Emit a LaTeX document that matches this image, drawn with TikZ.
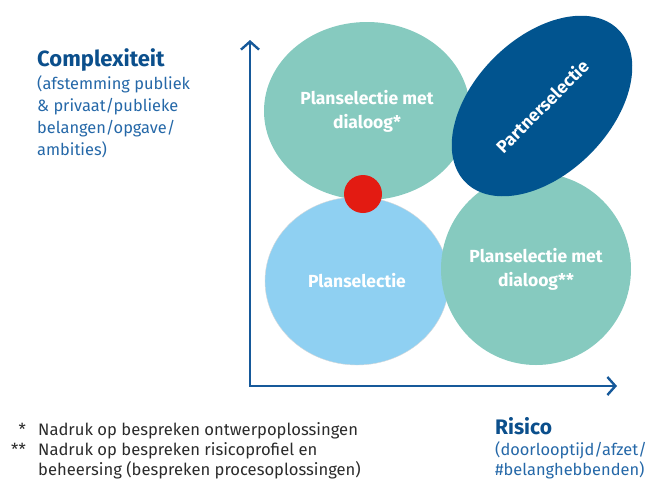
\documentclass[tikz,border=0pt]{standalone}
\usepackage{fontspec}
\setmainfont{Fira Sans}
\usepackage{xcolor}
\usepackage{tikz}
\usetikzlibrary{shapes.geometric,arrows.meta}
\definecolor{tealx}{HTML}{86CABF}
\definecolor{skyx}{HTML}{8FD0F2}
\definecolor{navyx}{HTML}{01548F}
\definecolor{redx}{HTML}{E31B12}
\definecolor{axisx}{HTML}{16599A}
\definecolor{headx}{HTML}{0B4F8C}
\definecolor{subx}{HTML}{2568A8}
\definecolor{notex}{HTML}{2B2B2B}

\begin{document}
\begin{tikzpicture}[x=1pt,y=-1pt,
  blob/.style={ellipse,inner sep=0pt,align=center,text=white,font=\fontsize{17.5}{24}\selectfont\bfseries},
  head/.style={anchor=base west,text=headx,inner sep=0pt,font=\fontsize{22}{26}\selectfont\bfseries},
  sub/.style={anchor=base west,text=subx,inner sep=0pt,font=\fontsize{16.4}{22}\selectfont},
  note/.style={anchor=base west,text=notex,inner sep=0pt,font=\fontsize{16.6}{21}\selectfont}]
\useasboundingbox (0,0) rectangle (651,483);
% ellipses
\node[blob,fill=tealx,minimum width=206pt,minimum height=178pt] (pmd) at (367,111) {Planselectie met\\dialoog*};
\node[blob,fill=skyx,draw=black!15,minimum width=184pt,minimum height=168pt] (ps) at (357,281) {Planselectie};
\node[blob,fill=tealx,minimum width=190pt,minimum height=192pt] (pmdd) at (536,269) {Planselectie met\\dialoog**};
\node[blob,fill=navyx,rotate=45,minimum width=216pt,minimum height=136pt] (pa) at (542,106) {Partnerselectie};
\node[circle,fill=redx,inner sep=0pt,minimum size=38pt] (dot) at (363,194) {};
% axes
\coordinate (o) at (250,386);
\coordinate (ytop) at (250,40);
\coordinate (xend) at (617,386);
\draw[axisx,line width=2.4pt,{Straight Barb[length=8pt,width=18pt]}-{Straight Barb[length=8pt,width=18pt]}] (ytop) -- (o) -- (xend);
% axis labels
\node[head] (cplx) at (37,66) {Complexiteit};
\foreach \i/\tx in {0/{(afstemming publiek},1/{\& privaat/publieke},2/{belangen/opgave/},3/{ambities)}}{
  \node[sub] (cplx\i) at (37,89+22*\i) {\tx};}
\node[head,font=\fontsize{21}{26}\selectfont\bfseries] (ris) at (495,434) {Risico};
\node[sub] (ris0) at (495,455) {(doorlooptijd/afzet/};
\node[sub] (ris1) at (495,475) {\#belanghebbenden)};
% footnotes
\node[note,anchor=base east] (st1) at (26,435) {*};
\node[note,anchor=base east] (st2) at (26,455) {**};
\node[note] (n1) at (38,435) {Nadruk op bespreken ontwerpoplossingen};
\node[note] (n2) at (38,455) {Nadruk op bespreken risicoprofiel en};
\node[note] (n3) at (38,475) {beheersing (bespreken procesoplossingen)};
\end{tikzpicture}
\end{document}
